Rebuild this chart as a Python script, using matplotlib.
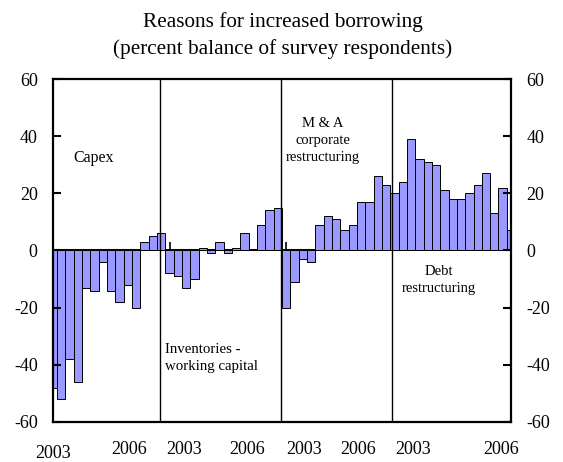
import matplotlib
matplotlib.use("Agg")
import matplotlib.pyplot as plt
import numpy as np

plt.rcParams['font.family'] = ['Liberation Serif', 'DejaVu Serif']

# percent balance, quarterly, four series laid end to end (14 quarters each)
capex = [-48, -52, -38, -46, -13, -14, -4, -14, -18, -12, -20, 3, 5, 6]
inventories = [-8, -9, -13, -10, 1, -1, 3, -1, 1, 6, 0, 9, 14, 15]
m_and_a = [-20, -11, -3, -4, 9, 12, 11, 7, 9, 17, 17, 26, 23, 20]
debt = [24, 39, 32, 31, 30, 21, 18, 18, 20, 23, 27, 13, 22, 7]

year_labels = ['2003', '2006', '2003', '2006', '2003', '2006', '2003', '2006']
year_pos = [0.0, 9.1, 15.8, 23.3, 30.2, 36.7, 43.2, 53.8]
divider_pos = [12.9, 27.4, 40.7]
yticks = [-60, -40, -20, 0, 20, 40, 60]

values = capex + inventories + m_and_a + debt
x = np.arange(len(values))

fig = plt.figure(figsize=(5.63, 4.62), dpi=100)
ax = fig.add_axes([0.0941, 0.0866, 0.8135, 0.7424])

ax.bar(x, values, width=1.0, color='#9999ff', edgecolor='black', linewidth=0.7)

ax.set_xlim(0, 55)
ax.set_ylim(-60, 60)

for xp in divider_pos:
    ax.axvline(xp, color='black', linewidth=1.0)

# zero line with small upward ticks between series
zero = ax.secondary_xaxis(0.5)
zero.set_xticks([0, 14, 28, 42, 56])
zero.set_xticklabels([''] * 5)
zero.tick_params(direction='out', length=6, width=1.2)
for s in zero.spines.values():
    s.set_linewidth(1.4)

ax.set_yticks(yticks)
ax.set_yticklabels([str(v) for v in yticks])
ax.tick_params(axis='y', direction='in', length=6, width=1.5, labelsize=13,
               left=True, right=True, labelleft=True, labelright=True, pad=11)

ax.set_xticks(year_pos)
ax.set_xticklabels(year_labels)
ax.tick_params(axis='x', length=0, labelsize=13, pad=14)
for lab in ax.get_xticklabels()[:1]:
    lab.set_y(-0.01)

for s in ax.spines.values():
    s.set_linewidth(1.6)

ax.text(2.5, 0.77, 'Capex', transform=ax.get_xaxis_transform(), fontsize=11.5,
        ha='left', va='center')
ax.text(13.5, 0.187, 'Inventories -\nworking capital', transform=ax.get_xaxis_transform(),
        fontsize=10.7, ha='left', va='center', linespacing=1.4)
ax.text(32.4, 0.822, 'M & A\ncorporate\nrestructuring', transform=ax.get_xaxis_transform(),
        fontsize=10.5, ha='center', va='center', linespacing=1.4)
ax.text(46.3, 0.414, 'Debt\nrestructuring', transform=ax.get_xaxis_transform(),
        fontsize=10.5, ha='center', va='center', linespacing=1.4)

fig.text(0.502, 0.953, 'Reasons for increased borrowing', ha='center', va='center', fontsize=15.3)
fig.text(0.502, 0.894, '(percent balance of survey respondents)', ha='center', va='center', fontsize=15.3)

fig.savefig('out.png', dpi=100)
